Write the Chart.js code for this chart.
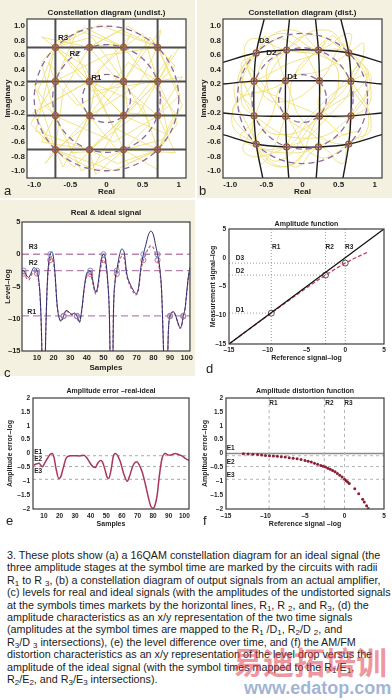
<!DOCTYPE html>
<html>
<head>
<meta charset="utf-8">
<script src="https://cdn.jsdelivr.net/npm/chart.js@4.4.1/dist/chart.umd.min.js"></script>
<style>
body { margin:0; width:392px; height:700px; background:#fff; position:relative; overflow:hidden; font-family:"Liberation Sans", Arial, sans-serif; }
.panel { position:absolute; background:#f4f1e1; }
canvas { position:absolute; }
.tag { position:absolute; font-size:13px; line-height:13px; color:#222; }
#caption { position:absolute; left:7px; top:549px; font-size:10.75px; line-height:12.4px; color:#1a1a1a; white-space:nowrap; }
#caption sub { font-size:8px; vertical-align:-2px; line-height:0; }
.wm { position:absolute; font-weight:bold; white-space:nowrap; }
</style>
</head>
<body>
<div class="panel" style="left:0;top:0;width:195px;height:198px"></div>
<div class="panel" style="left:197px;top:0;width:195px;height:198px"></div>
<div class="panel" style="left:0;top:200px;width:195px;height:176px"></div>

<canvas id="ca" width="196" height="198" style="left:0;top:0;width:196px;height:198px"></canvas>
<canvas id="cb" width="196" height="198" style="left:196px;top:0;width:196px;height:198px"></canvas>
<canvas id="cc" width="195" height="176" style="left:0;top:200px;width:195px;height:176px"></canvas>
<canvas id="cd" width="195" height="166" style="left:197px;top:210px;width:195px;height:166px"></canvas>
<canvas id="ce" width="195" height="152" style="left:0;top:378px;width:195px;height:152px"></canvas>
<canvas id="cf" width="195" height="152" style="left:197px;top:378px;width:195px;height:152px"></canvas>

<div class="tag" style="left:4px;top:184px">a</div>
<div class="tag" style="left:199px;top:184px">b</div>
<div class="tag" style="left:4px;top:366px">c</div>
<div class="tag" style="left:206px;top:362px">d</div>
<div class="tag" style="left:6px;top:514px">e</div>
<div class="tag" style="left:203px;top:514px">f</div>

<div id="caption">
3. These plots show (a) a 16QAM constellation diagram for an ideal signal (the<br>
three amplitude stages at the symbol time are marked by the circuits with radii<br>
R<sub>1</sub> to R <sub>3</sub>, (b) a constellation diagram of output signals from an actual amplifier,<br>
(c) levels for real and ideal signals (with the amplitudes of the undistorted signals<br>
at the symbols times markets by the horizontal lines, R<sub>1</sub>, R <sub>2</sub>, and R<sub>3</sub>, (d) the<br>
amplitude characteristics as an x/y representation of the two time signals<br>
(amplitudes at the symbol times are mapped to the R<sub>1</sub> /D<sub>1</sub>, R<sub>2</sub>/D <sub>2</sub>, and<br>
R<sub>3</sub>/D <sub>3</sub> intersections), (e) the level difference over time, and (f) the AM/FM<br>
distortion characteristics as an x/y representation of the level drop versus the<br>
amplitude of the ideal signal (with the symbol times mapped to the R<sub>1</sub>/E<sub>1</sub>,<br>
R<sub>2</sub>/E<sub>2</sub>, and R<sub>3</sub>/E<sub>3</sub> intersections).
</div>
<div class="wm" style="left:232px;top:638px;font-size:31px;color:rgba(225,60,75,0.55);font-family:'Noto Sans CJK SC'">易迪拓培训</div>
<div class="wm" style="left:244px;top:678px;font-size:18px;color:rgba(80,115,175,0.55);font-family:'Liberation Sans',Arial">www.edatop.com</div>

<script>
const FONT = '"Liberation Sans", Arial, sans-serif';

// constellation (a, b)
const qamLevels = [-0.707, -0.236, 0.236, 0.707];
const ringsUndist = [0.333, 0.745, 1.0];
const ringsDist = [0.33, 0.70, 0.90];
const constTicks = [1.0, 0.8, 0.6, 0.4, 0.2, 0, -0.2, -0.4, -0.6, -0.8, -1.0];
const constTickLabels = ['1.0', '0.8', '0.6', '0.4', '0.2', '0', '-0.2', '-0.4', '-0.6', '-0.8', '-1.0'];
const realTicks = [-1, -0.5, 0, 0.5, 1];
const realTickLabels = ['-1.0', '-0.5', '0', '0.5', '1'];

const trajUndist = [
  [0.71,0.71],[0.95,0.45],[0.24,-0.24],[-0.45,-0.95],[-0.71,-0.71],[-1.02,-0.2],[-0.24,0.24],[0.35,0.9],
  [0.24,0.71],[-0.3,0.98],[-0.71,0.71],[-0.95,0.1],[-0.71,-0.24],[0.1,-0.6],[0.71,-0.24],[1.05,0.3],
  [0.71,0.24],[0.2,-0.3],[-0.24,-0.71],[-0.15,-1.05],[0.24,-0.71],[0.85,-0.55],[0.71,-0.71],[0.3,-0.9],
  [-0.24,-0.24],[-0.8,0.5],[-0.71,0.24],[-0.4,-0.1],[0.24,0.24],[0.6,0.85],[0.71,0.71],[0.2,0.95],
  [-0.24,0.71],[-0.6,0.1],[-0.71,-0.71],[-0.2,-0.98],[0.24,-0.24],[0.9,0.6],[0.71,0.24],[0.98,-0.35],
  [0.71,-0.71],[0.1,-0.4],[-0.24,0.24],[-0.55,0.9],[-0.71,0.71],[-0.9,0.5],[-0.71,-0.24],[-0.9,-0.6],
  [-0.24,-0.71],[0.45,-0.2],[0.71,0.24],[0.5,0.9],[0.24,0.71],[-0.1,0.4],[-0.24,-0.24],[-0.6,-0.95],
  [-0.71,-0.71],[-1.0,0.2],[-0.71,0.24],[0.0,0.6],[0.71,0.71],[1.02,0.05],[0.71,-0.24],[0.3,-0.2],
  [0.24,0.24],[-0.2,0.85],[-0.71,0.71],[-0.3,0.45],[0.24,-0.71],[0.7,-0.98],[0.71,-0.71],
  [0.95,-0.2],[0.24,0.71],[-0.4,0.95],[-0.71,0.24],[-1.05,-0.35],[-0.71,-0.71],[-0.3,-0.4],[0.24,0.24],
  [0.75,0.95],[0.71,0.71],[0.45,0.2],[-0.24,-0.24],[-0.5,-0.75],[0.24,-0.71],[0.95,-0.75],[0.71,-0.24],
  [0.2,0.2],[-0.24,0.71],[-0.9,0.85],[-0.71,0.71],[-0.2,0.1],[0.71,0.24],[1.0,0.7],[0.71,0.71],
  [-0.1,1.02],[-0.71,0.71],[-0.98,-0.45],[-0.24,-0.71],[0.15,-0.9],[0.71,-0.71],[0.5,-0.1],[-0.24,0.24],
  [-0.85,-0.1],[-0.71,-0.24],[-0.35,-1.0],[0.24,-0.71],[0.6,-0.35],[0.24,0.24],[0.1,0.75],[-0.24,0.71],
  [0.3,1.0],[0.71,0.71],[1.05,-0.1],[0.71,-0.71],[0.1,-1.0],[-0.71,-0.71],[-0.85,-0.9],[-0.24,-0.24],
  [0.3,0.5],[0.71,0.24],[0.85,-0.5],[0.24,-0.24],[-0.4,0.4],[-0.71,0.71]
];
const trajDist = [
  [0.64,0.63],[0.9,0.3],[0.23,-0.24],[-0.3,-0.85],[-0.64,-0.63],[-0.95,-0.1],[-0.23,0.24],[0.3,0.8],
  [0.22,0.67],[-0.3,0.9],[-0.64,0.63],[-0.85,0.05],[-0.67,-0.24],[0.05,-0.55],[0.67,-0.24],[0.95,0.3],
  [0.67,0.24],[0.15,-0.2],[-0.22,-0.67],[-0.1,-0.95],[0.22,-0.67],[0.8,-0.45],[0.64,-0.63],[0.2,-0.8],
  [-0.23,-0.24],[-0.75,0.45],[-0.67,0.24],[-0.35,-0.05],[0.23,0.24],[0.55,0.75],[0.64,0.63],[0.15,0.88],
  [-0.22,0.67],[-0.55,0.05],[-0.64,-0.63],[-0.15,-0.92],[0.23,-0.24],[0.85,0.55],[0.67,0.24],[0.92,-0.3],
  [0.64,-0.63],[0.05,-0.35],[-0.23,0.24],[-0.5,0.85],[-0.64,0.63],[-0.85,0.45],[-0.67,-0.24],[-0.85,-0.55],
  [-0.22,-0.67],[0.4,-0.2],[0.67,0.24],[0.45,0.85],[0.22,0.67],[-0.1,0.35],[-0.23,-0.24],[-0.55,-0.9],
  [-0.64,-0.63],[-0.95,0.15],[-0.67,0.24],[0.0,0.55],[0.64,0.63],[0.95,0.05],[0.67,-0.24],[0.25,-0.15],
  [0.23,0.24],[-0.2,0.8],[-0.64,0.63],
  [-0.85,0.3],[-0.67,-0.24],[-0.3,-0.5],[0.23,-0.24],[0.5,0.3],[0.22,0.67],[-0.2,0.95],[-0.64,0.63],
  [-0.9,0.2],[-0.67,-0.24],[-0.8,-0.75],[-0.22,-0.67],[0.1,-0.3],[0.67,0.24],[0.85,0.75],[0.64,0.63],
  [0.3,0.4],[-0.23,0.24],[-0.45,-0.3],[-0.64,-0.63],[-0.3,-0.95],[0.22,-0.67],[0.55,-0.9],[0.64,-0.63],
  [0.95,-0.4],[0.67,0.24],[0.35,0.55],[-0.22,0.67],[-0.75,0.8],[-0.67,0.24],[-0.3,0.0],[0.23,-0.24],
  [0.6,-0.5],[0.67,-0.24],[0.9,0.2],[0.64,0.63],[0.3,0.95],[-0.22,0.67],[-0.5,0.35],[-0.23,-0.24],
  [0.2,-0.55],[0.22,-0.67],[-0.3,-0.75],[-0.64,-0.63],[-0.98,-0.3],[-0.67,0.24],[-0.45,0.6],[0.22,0.67],
  [0.65,0.9],[0.64,0.63]
];
const distPoints = [
  [-0.64,0.63],[-0.22,0.67],[0.22,0.67],[0.64,0.63],
  [-0.67,0.24],[-0.235,0.245],[0.235,0.245],[0.67,0.24],
  [-0.67,-0.24],[-0.235,-0.245],[0.235,-0.245],[0.67,-0.24],
  [-0.64,-0.63],[-0.22,-0.67],[0.22,-0.67],[0.64,-0.63]
];
const distGridV = [
  [[-0.53,1.1],[-0.64,0.63],[-0.67,0.24],[-0.67,-0.24],[-0.64,-0.63],[-0.55,-1.1]],
  [[-0.18,1.1],[-0.22,0.67],[-0.235,0.245],[-0.235,-0.245],[-0.22,-0.67],[-0.19,-1.1]],
  [[0.18,1.1],[0.22,0.67],[0.235,0.245],[0.235,-0.245],[0.22,-0.67],[0.19,-1.1]],
  [[0.53,1.1],[0.64,0.63],[0.67,0.24],[0.67,-0.24],[0.64,-0.63],[0.56,-1.1]]
];
const distGridH = [
  [[-1.1,0.5],[-0.64,0.63],[-0.22,0.67],[0.22,0.67],[0.64,0.63],[1.1,0.5]],
  [[-1.1,0.2],[-0.67,0.24],[-0.235,0.245],[0.235,0.245],[0.67,0.24],[1.1,0.2]],
  [[-1.1,-0.2],[-0.67,-0.24],[-0.235,-0.245],[0.235,-0.245],[0.67,-0.24],[1.1,-0.2]],
  [[-1.1,-0.5],[-0.64,-0.63],[-0.22,-0.67],[0.22,-0.67],[0.64,-0.63],[1.1,-0.5]]
];

// real & ideal signal (c)
const samples = [
  1, 2, 4, 5, 6.5, 8, 10, 11, 12, 12.8,
  13.5, 14.5, 15.3, 16.3, 17.2, 18, 19, 20, 21, 22,
  23, 24.5, 26, 27.5, 29, 31, 32.5, 34, 35.5, 37,
  38.5, 40, 42, 43, 44.5, 45.5, 46.5, 48, 49, 50,
  51, 52.5, 53.5, 54.5, 55.3, 56, 57, 58, 59.5, 61,
  62.5, 64, 66, 68, 69.5, 71, 72.5, 74, 75.5, 77,
  78.5, 80, 81.5, 82.5, 84, 85, 86, 86.8, 88, 89,
  90, 91, 92, 93.5, 95, 96, 97, 98, 99, 100,
  101, 102
];
const idealLevel = [
  -2.5, -2.55, -3.4, -3.6, -2.9, -2.1, -2.55, -3.8, -7, -13,
  -22, -22, -12, -4, -1, 0, 0.4, -0.6, -3.5, -7.5,
  -9.5, -10.3, -9.54, -8.7, -8.9, -9.3, -9.1, -9.54, -10.5, -8.5,
  -5, -2.9, -2.55, -3.3, -5.3, -5.9, -5, -2, -0.5, 0,
  -0.5, -4, -9, -22, -22, -9, -4, -2.55, -0.3, 0.8,
  0.2, -3, -4.6, -5.6, -6.1, -5.3, -2, 0, 1.5, 3,
  3.6, 3.0, 1.2, 0, -2.5, -6, -14, -22, -22, -12,
  -9.54, -9.0, -8.9, -9.6, -10.8, -11.4, -11, -9.54, -8.5, -6,
  -3.5, -2
];
const realLevel = [
  -3.0, -3.0, -3.8, -4.0, -3.3, -2.6, -3.0, -4.2, -7.2, -13.2,
  -22, -22, -12.1, -4.4, -1.7, -0.9, -0.6, -1.4, -3.9, -7.6,
  -9.6, -10.4, -9.62, -8.8, -9.0, -9.4, -9.2, -9.62, -10.6, -8.6,
  -5.3, -3.4, -3.05, -3.8, -5.6, -6.2, -5.3, -2.6, -1.3, -0.9,
  -1.3, -4.2, -9.1, -22, -22, -9.1, -4.3, -3.05, -1.2, -0.3,
  -0.7, -3.4, -4.9, -5.9, -6.3, -5.6, -2.6, -0.9, 0.1, 0.9,
  1.3, 1.0, -0.1, -0.9, -3.0, -6.2, -14, -22, -22, -12.1,
  -9.62, -9.1, -9.0, -9.7, -10.9, -11.5, -11.1, -9.62, -8.6, -6.3,
  -3.9, -2.6
];
const symbolTimes = [2, 10, 18, 26, 34, 42, 50, 58, 74, 82.5, 90, 98];
const cTicksX = [10, 20, 30, 40, 50, 60, 70, 80, 90, 100];
const cTickLabelsX = ['10', '20', '30', '40', '50', '60', '70', '80', '90', '100'];
const cTicksY = [5, 0, -5, -10, -15];
const cTickLabelsY = ['5', '0', '–5', '–10', '–15'];

// amplitude levels (dB)
const rLevels = [-9.54, -2.55, 0];
const dLevels = [-9.62, -3.02, -0.93];
const eLevels = [-0.08, -0.47, -0.93];

// amplitude function (d)
const diagonal = [-15, 5];
const refSignal = [-15, -12, -10, -8, -6, -4, -2.55, -1, 0, 1, 2, 3];
const measSignal = [-15.0, -12.02, -10.07, -8.12, -6.19, -4.31, -3.02, -1.72, -0.93, -0.22, 0.4, 1.02];
const dTicks = [-15, -10, -5, 0, 5];
const dTickLabels = ['–15', '–10', '–5', '0', '5'];

// amplitude error (e)
const errSamples = [
  3.6, 5, 6.8, 8, 9, 10.5, 12.2, 14, 15.4, 16.5,
  17.8, 19.5, 20.7, 22.5, 24, 25.5, 27, 30, 33, 35.6,
  37.8, 40, 41.5, 43, 44.5, 46.3, 47.5, 49, 50.5, 51.6,
  53, 54.5, 55.9, 57.5, 59, 61, 63.4, 65, 67, 69.5,
  71, 73, 75, 77.2, 78.5, 80, 81.3, 82.6, 84, 85.7,
  87.9, 89.5, 91, 92.5, 94.3, 96, 97.5, 99, 100.7, 103
];
const errValues = [
  -0.42, -0.38, -0.35, -0.42, -0.48, -0.35, -0.18, -0.03, 0.0, -0.15,
  -0.55, -0.9, -0.85, -0.5, -0.2, -0.1, -0.08, -0.08, -0.09, -0.06,
  -0.18, -0.38, -0.48, -0.5, -0.35, -0.25, -0.3, -0.55, -0.85, -0.9,
  -0.6, -0.1, 0.0, -0.1, -0.3, -0.7, -1.0, -0.8, -0.45, -0.3,
  -0.4, -0.67, -1.1, -1.64, -1.9, -1.97, -1.85, -1.5, -0.8, -0.18,
  0.0, -0.05, -0.06, -0.03, 0.0, -0.03, -0.06, -0.1, -0.18, -0.25
];
const eTicks = [2, 1.5, 1, 0.5, 0, -0.5, -1, -1.5, -2];
const eTickLabels = ['2', '1.5', '1', '0.5', '0', '–0.5', '–1', '–1.5', '–2'];

// amplitude distortion (f)
const distRef = [
  -12.8, -12.2, -11.6, -11, -10.5, -10, -9.5, -9, -8.5, -8,
  -7.5, -7, -6.5, -6, -5.5, -5, -4.6, -4.2, -3.8, -3.4,
  -3, -2.7, -2.4, -2.1, -1.8, -1.5, -1.2, -0.9, -0.6, -0.3,
  0, 0.2, 0.4, 0.6, 1.3, 1.8, 2.3, 2.5, 2.8, 3.0
];
const distErr = [
  -0.01, -0.02, -0.03, -0.04, -0.05, -0.07, -0.08, -0.09, -0.1, -0.12,
  -0.13, -0.15, -0.17, -0.19, -0.22, -0.25, -0.28, -0.31, -0.35, -0.39,
  -0.43, -0.46, -0.49, -0.53, -0.57, -0.61, -0.66, -0.72, -0.78, -0.85,
  -0.93, -0.98, -1.03, -1.08, -1.27, -1.45, -1.65, -1.75, -1.88, -1.98
];

Chart.defaults.font.family = FONT;
Chart.defaults.color = '#1e1e1e';

// extra drawing per canvas: ref lines, rings, text labels, frame
const overlays = {};
const overlay = {
  id: 'overlay',
  beforeDraw(chart) {
    const a = chart.chartArea, ctx = chart.ctx;
    ctx.save();
    ctx.fillStyle = '#fff';
    ctx.fillRect(a.left, a.top, a.width, a.height);
    ctx.restore();
  },
  beforeDatasetsDraw(chart) {
    const o = overlays[chart.canvas.id] || {};
    const {ctx, chartArea: a, scales: {x, y}} = chart;
    ctx.save();
    ctx.beginPath(); ctx.rect(a.left, a.top, a.width, a.height); ctx.clip();
    const stroke = (x0, y0, x1, y1, l) => {
      ctx.strokeStyle = l.c; ctx.lineWidth = l.w || 1; ctx.setLineDash(l.dash || []);
      ctx.beginPath(); ctx.moveTo(x0, y0); ctx.lineTo(x1, y1); ctx.stroke();
    };
    (o.hlines || []).forEach(l => {
      const py = y.getPixelForValue(l.v);
      stroke(l.from !== undefined ? x.getPixelForValue(l.from) : a.left, py,
             l.to !== undefined ? x.getPixelForValue(l.to) : a.right, py, l);
    });
    (o.vlines || []).forEach(l => {
      const px = x.getPixelForValue(l.v);
      stroke(px, a.top, px, a.bottom, l);
    });
    ctx.restore();
  },
  afterDatasetsDraw(chart) {
    const o = overlays[chart.canvas.id] || {};
    if (!o.rings) return;
    const {ctx, scales: {x, y}} = chart;
    const cx = x.getPixelForValue(0), cy = y.getPixelForValue(0);
    ctx.save();
    ctx.strokeStyle = '#8d6c9c'; ctx.lineWidth = 1.3; ctx.setLineDash([6, 4]);
    o.rings.forEach(r => {
      ctx.beginPath();
      ctx.ellipse(cx, cy, x.getPixelForValue(r) - cx, cy - y.getPixelForValue(r), 0, 0, Math.PI * 2);
      ctx.stroke();
    });
    ctx.restore();
  },
  afterDraw(chart) {
    const o = overlays[chart.canvas.id] || {};
    const {ctx, chartArea: a, scales: {x, y}} = chart;
    ctx.save();
    ctx.strokeStyle = '#3c3c3c'; ctx.lineWidth = 1.2;
    ctx.strokeRect(a.left, a.top, a.width, a.height);
    ctx.fillStyle = '#1e1e1e';
    ctx.font = 'bold ' + (o.fs || 7) + 'px ' + FONT;
    ctx.textAlign = 'center'; ctx.textBaseline = 'middle';
    (o.labels || []).forEach(l => ctx.fillText(l.t, x.getPixelForValue(l.x), y.getPixelForValue(l.y)));
    ctx.restore();
  }
};
Chart.register(overlay);

function linAxis(horiz, min, max, ticks, labels, title, f) {
  return {
    type: 'linear', min, max,
    afterBuildTicks: s => { s.ticks = ticks.map(v => ({ value: v })); },
    afterFit: s => { if (horiz) s.height = f.size; else s.width = f.size; },
    grid: { display: false, drawTicks: false },
    border: { display: false },
    ticks: { autoSkip: false, maxRotation: 0, minRotation: 0, padding: f.pad, color: '#1e1e1e',
             font: { size: f.fs, weight: 'bold' }, callback: (v, i) => labels[i] },
    title: { display: true, text: title, color: '#1e1e1e', font: { size: f.ts, weight: 'bold' },
             padding: horiz ? { top: 0, bottom: f.tp } : { top: f.tp, bottom: 0 } }
  };
}

function pts(list) { return list.map(([x, y]) => ({ x, y })); }
function zip(xs, ys) { return xs.map((x, i) => ({ x, y: ys[i] })); }

function makeChart(id, datasets, xs, ys, title, padRight) {
  return new Chart(document.getElementById(id), {
    type: 'scatter',
    data: { datasets },
    options: {
      responsive: false, animation: false, devicePixelRatio: 1,
      layout: { padding: { left: 0, top: 0, right: padRight, bottom: 0 } },
      plugins: {
        legend: { display: false }, tooltip: { enabled: false },
        title: { display: true, text: title.text, fullSize: false, color: '#1e1e1e',
                 font: { size: title.fs, weight: 'bold' }, padding: { top: title.pt, bottom: title.pb } }
      },
      scales: { x: xs, y: ys }
    }
  });
}

// ---- a: undistorted constellation ----
const gridA = [];
qamLevels.forEach(v => {
  gridA.push({ data: pts([[v, -1.1], [v, 1.1]]), showLine: true, borderColor: '#4e4e4e', borderWidth: 2, pointRadius: 0, order: 5 });
  gridA.push({ data: pts([[-1.1, v], [1.1, v]]), showLine: true, borderColor: '#4e4e4e', borderWidth: 2, pointRadius: 0, order: 5 });
});
overlays.ca = { rings: ringsUndist, fs: 8, labels: [
  { t: 'R3', x: -0.6, y: 0.84 }, { t: 'R2', x: -0.44, y: 0.62 }, { t: 'R1', x: -0.14, y: 0.29 } ] };
makeChart('ca', [
  { data: pts(trajUndist), showLine: true, borderColor: '#efe07a', borderWidth: 0.9, pointRadius: 0, order: 10 },
  ...gridA,
  { data: qamLevels.flatMap(x => qamLevels.map(y => ({ x, y }))), pointRadius: 3, pointBorderWidth: 1.2,
    pointBorderColor: '#9a5535', pointBackgroundColor: 'rgba(175,105,60,0.35)', order: 0 }
], linAxis(true, -1.1, 1.1, realTicks, realTickLabels, 'Real', { size: 20, pad: 2, fs: 8, ts: 8, tp: 1.2 }),
   linAxis(false, -1.1, 1.1, constTicks, constTickLabels, 'Imaginary', { size: 27, pad: 2, fs: 8, ts: 8, tp: 2.7 }),
   { text: 'Constellation diagram (undist.)', fs: 8, pt: 8, pb: 1.4 }, 10);

// ---- b: distorted constellation ----
const gridB = [...distGridV, ...distGridH].map(line => ({
  data: pts(line), showLine: true, borderColor: '#1c1c1c', borderWidth: 1.4, pointRadius: 0, tension: 0.4, order: 5 }));
overlays.cb = { rings: ringsDist, fs: 8, labels: [
  { t: 'D3', x: -0.53, y: 0.8 }, { t: 'D2', x: -0.43, y: 0.63 }, { t: 'D1', x: -0.14, y: 0.3 } ] };
makeChart('cb', [
  { data: pts(trajDist), showLine: true, borderColor: '#efe07a', borderWidth: 0.9, pointRadius: 0, tension: 0.5, order: 10 },
  ...gridB,
  { data: pts(distPoints), pointRadius: 3, pointBorderWidth: 1.2,
    pointBorderColor: '#9a5535', pointBackgroundColor: 'rgba(175,105,60,0.35)', order: 0 }
], linAxis(true, -1.1, 1.1, realTicks, realTickLabels, 'Real', { size: 20, pad: 2, fs: 8, ts: 8, tp: 1.2 }),
   linAxis(false, -1.1, 1.1, constTicks, constTickLabels, 'Imaginary', { size: 27, pad: 2, fs: 8, ts: 8, tp: 2.7 }),
   { text: 'Constellation diagram (dist.)', fs: 8, pt: 8, pb: 1.4 }, 10);

// ---- c: real & ideal signal ----
const atSymbol = ctx => symbolTimes.includes(samples[ctx.dataIndex]) ? 2.6 : 0;
overlays.cc = {
  hlines: rLevels.map(v => ({ v, c: '#b985b0', w: 1.3, dash: [7, 4] })),
  fs: 7, labels: [{ t: 'R3', x: 7.7, y: 1.1 }, { t: 'R2', x: 7.7, y: -1.3 }, { t: 'R1', x: 6.8, y: -9.0 }]
};
makeChart('cc', [
  { data: zip(samples, idealLevel), showLine: true, borderColor: '#2c2c70', borderWidth: 1,
    cubicInterpolationMode: 'monotone', pointRadius: atSymbol, pointBorderColor: '#7f8fc4',
    pointBackgroundColor: 'rgba(0,0,0,0)', pointBorderWidth: 1 },
  { data: zip(samples, realLevel), showLine: true, borderColor: '#c85a78', borderWidth: 1.2, borderDash: [3, 2],
    cubicInterpolationMode: 'monotone', pointRadius: atSymbol, pointBorderColor: '#cf6f86',
    pointBackgroundColor: 'rgba(0,0,0,0)', pointBorderWidth: 1 }
], linAxis(true, 1, 102, cTicksX, cTickLabelsX, 'Samples', { size: 25, pad: 2, fs: 7.5, ts: 8, tp: 3.5 }),
   linAxis(false, -15, 5, cTicksY, cTickLabelsY, 'Level–log', { size: 22, pad: 1.5, fs: 7.5, ts: 7.5, tp: 3.5 }),
   { text: 'Real & ideal signal', fs: 8, pt: 8.2, pb: 4.2 }, 4);

// ---- d: amplitude function ----
overlays.cd = {
  vlines: rLevels.map(v => ({ v, c: '#9a9a9a', w: 1, dash: [1, 2] })),
  hlines: dLevels.map((v, i) => ({ v, to: rLevels[i], c: '#9a9a9a', w: 1, dash: [1, 2] })),
  fs: 6.5, labels: [
    { t: 'R1', x: -8.9, y: 1.8 }, { t: 'R2', x: -2.0, y: 1.8 }, { t: 'R3', x: 0.5, y: 1.8 },
    { t: 'D3', x: -13.6, y: -0.05 }, { t: 'D2', x: -13.6, y: -2.3 }, { t: 'D1', x: -13.6, y: -9.1 } ]
};
makeChart('cd', [
  { data: zip(diagonal, diagonal), showLine: true, borderColor: '#111', borderWidth: 1.3, pointRadius: 0 },
  { data: zip(refSignal, measSignal), showLine: true, borderColor: '#c8405a', borderWidth: 1.3, borderDash: [4, 2],
    cubicInterpolationMode: 'monotone', pointRadius: 0 },
  { data: zip(rLevels, dLevels), pointRadius: 3, pointBorderColor: '#555', pointBackgroundColor: 'rgba(0,0,0,0)', pointBorderWidth: 1 }
], linAxis(true, -15, 5, dTicks, dTickLabels, 'Reference signal–log', { size: 32, pad: 2, fs: 6.5, ts: 7, tp: 13.8 }),
   linAxis(false, -15, 5, dTicks, dTickLabels, 'Measurement signal–log', { size: 32, pad: 3, fs: 6.5, ts: 7, tp: 11.8 }),
   { text: 'Amplitude function', fs: 7, pt: 10.1, pb: 0.5 }, 8);

// ---- e: amplitude error ----
overlays.ce = {
  hlines: eLevels.map(v => ({ v, c: '#a8a8a8', w: 1, dash: [3, 3] })),
  fs: 6.5, labels: [{ t: 'E1', x: 6.3, y: 0.06 }, { t: 'E2', x: 6.3, y: -0.2 }, { t: 'E3', x: 6.3, y: -0.65 }]
};
makeChart('ce', [
  { data: zip(errSamples, errValues), showLine: true, borderColor: '#a8385a', borderWidth: 1.5,
    cubicInterpolationMode: 'monotone', pointRadius: 0 }
], linAxis(true, 3, 103, cTicksX, cTickLabelsX, 'Samples', { size: 21, pad: 3, fs: 6.5, ts: 7, tp: 1.8 }),
   linAxis(false, -2, 2, eTicks, eTickLabels, 'Amplitude error–log', { size: 33, pad: 3, fs: 6.5, ts: 7, tp: 5.8 }),
   { text: 'Amplitude error –real-ideal', fs: 7, pt: 8.8, pb: 2.8 }, 6);

// ---- f: amplitude distortion ----
overlays.cf = {
  vlines: rLevels.map(v => ({ v, c: '#b5b5b5', w: 1, dash: [3, 3] })),
  hlines: [{ v: 0, c: '#8a8a8a', w: 1.5 }, ...eLevels.map(v => ({ v, c: '#b5b5b5', w: 1, dash: [3, 3] }))],
  fs: 6.5, labels: [
    { t: 'R1', x: -9.0, y: 1.82 }, { t: 'R2', x: -1.9, y: 1.82 }, { t: 'R3', x: 0.5, y: 1.82 },
    { t: 'E1', x: -14.4, y: 0.18 }, { t: 'E2', x: -14.4, y: -0.33 }, { t: 'E3', x: -14.4, y: -0.79 } ]
};
makeChart('cf', [
  { data: zip(distRef, distErr), pointRadius: 1.5, pointBorderWidth: 0,
    pointBackgroundColor: '#8a1f35' }
], linAxis(true, -15, 5, dTicks, dTickLabels, 'Reference signal –log', { size: 21, pad: 3, fs: 6.5, ts: 7, tp: 1.8 }),
   linAxis(false, -2, 2, eTicks, eTickLabels, 'Amplitude error–log', { size: 29, pad: 3, fs: 6.5, ts: 7, tp: 3.8 }),
   { text: 'Amplitude distortion function', fs: 7, pt: 8.8, pb: 2.8 }, 8);
</script>
</body>
</html>
